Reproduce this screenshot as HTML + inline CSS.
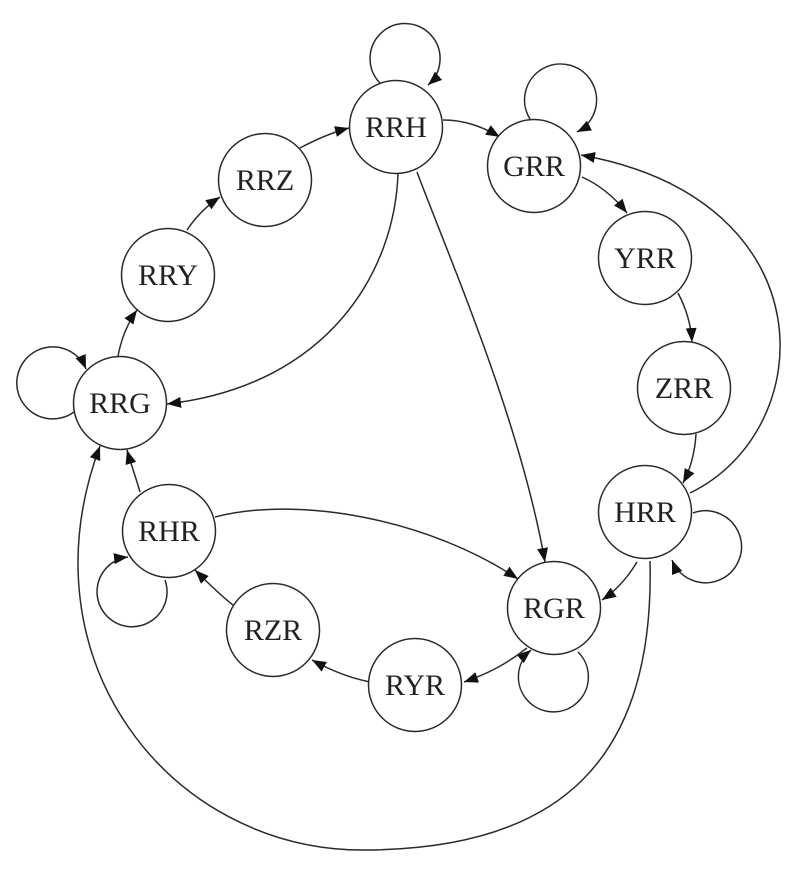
<!DOCTYPE html>
<html>
<head>
<meta charset="utf-8">
<style>
  html,body{margin:0;padding:0;background:#fff;}
  svg{display:block;}
  text{font-family:"Liberation Serif","DejaVu Serif",serif;font-size:30px;fill:#222;text-anchor:middle;}
</style>
</head>
<body>
<svg width="802" height="875" viewBox="0 0 802 875" xmlns="http://www.w3.org/2000/svg">
  <defs>
    <marker id="a" viewBox="0 0 14 11" markerWidth="14" markerHeight="11" refX="14" refY="5.5" orient="auto" markerUnits="userSpaceOnUse">
      <path d="M0,0 L14,5.5 L0,11 z" fill="#111"/>
    </marker>
  </defs>
  <g fill="none" stroke="#2a2a2a" stroke-width="1.5" marker-end="url(#a)">
    <!-- self loops -->
    <path d="M380,83 A35,35 0 1 1 428,85"/>
    <path d="M530,119 A36,36 0 1 1 577,132"/>
    <path d="M74,412 A36,36 0 1 1 86,369"/>
    <path d="M693,513 A36,36 0 1 1 672,560"/>
    <path d="M578,652 A35,35 0 1 1 531,650"/>
    <path d="M165,580 A35,35 0 1 1 128,557"/>
    <!-- edges -->
    <path d="M443,120 C465,120 483,127 500,137"/>
    <path d="M300,148 C315,140 330,133 349,128"/>
    <path d="M187,230 C195,218 205,207 220,197"/>
    <path d="M118,356 C121,340 127,324 137,310"/>
    <path d="M582,177 C600,185 615,198 627,213"/>
    <path d="M678,293 C686,308 691,325 692,342"/>
    <path d="M696,434 C695,450 691,468 683,483"/>
    <path d="M690,493 C820,430 830,200 581,155"/>
    <path d="M637,562 C628,577 617,590 602,600"/>
    <path d="M650,561 C655,760 560,850 363,850 C170,850 20,660 100,446"/>
    <path d="M527,648 C505,665 487,674 464,682"/>
    <path d="M370,682 C350,678 330,670 312,660"/>
    <path d="M233,605 C220,595 207,582 195,570"/>
    <path d="M140,492 C136,478 131,464 127,450"/>
    <path d="M215,517 C300,495 430,520 518,579"/>
    <path d="M417,172 C450,260 520,420 545,562"/>
    <path d="M398,173 C395,270 330,385 167,404"/>
  </g>
  <g fill="#fff" stroke="#2a2a2a" stroke-width="1.5">
    <circle cx="396" cy="127" r="46.5"/>
    <circle cx="534" cy="166" r="46.5"/>
    <circle cx="265" cy="180" r="46.5"/>
    <circle cx="168" cy="275" r="46.5"/>
    <circle cx="120" cy="403" r="46.5"/>
    <circle cx="645" cy="258" r="46.5"/>
    <circle cx="684" cy="388" r="46.5"/>
    <circle cx="645" cy="512" r="46.5"/>
    <circle cx="169" cy="531" r="46.5"/>
    <circle cx="554" cy="608" r="46.5"/>
    <circle cx="273" cy="630" r="46.5"/>
    <circle cx="415" cy="685" r="46.5"/>
  </g>
  <g>
    <text x="396" y="137">RRH</text>
    <text x="534" y="176">GRR</text>
    <text x="265" y="190">RRZ</text>
    <text x="168" y="285">RRY</text>
    <text x="120" y="413">RRG</text>
    <text x="645" y="268">YRR</text>
    <text x="684" y="398">ZRR</text>
    <text x="645" y="522">HRR</text>
    <text x="169" y="541">RHR</text>
    <text x="554" y="618">RGR</text>
    <text x="273" y="640">RZR</text>
    <text x="415" y="695">RYR</text>
  </g>
</svg>
</body>
</html>
